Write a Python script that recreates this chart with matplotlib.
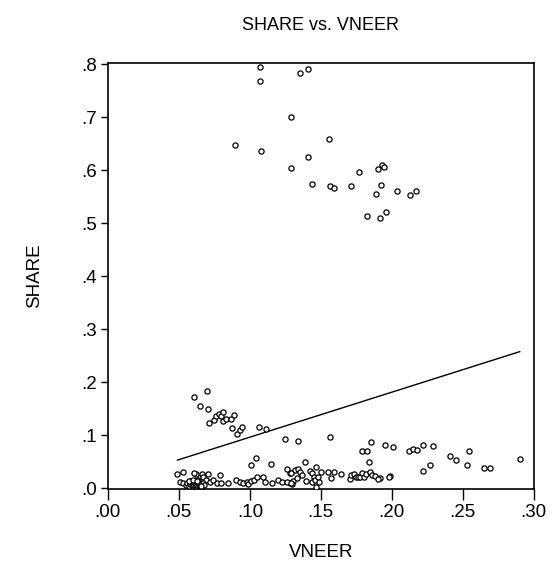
import numpy as np
import matplotlib
matplotlib.use("Agg")
import matplotlib.pyplot as plt
from matplotlib.ticker import FuncFormatter

# upper group (share > .5)
vneer_hi = [0.1075, 0.1075, 0.135, 0.141, 0.129, 0.0894, 0.108, 0.1413, 0.129, 0.1437,
            0.156, 0.1568, 0.1596, 0.177, 0.1713, 0.190, 0.1934, 0.1948, 0.1927, 0.1887,
            0.2037, 0.2129, 0.2174, 0.1824, 0.192, 0.1958]
share_hi = [0.794, 0.768, 0.783, 0.791, 0.701, 0.647, 0.635, 0.624, 0.604, 0.573,
            0.659, 0.570, 0.567, 0.596, 0.569, 0.602, 0.610, 0.605, 0.572, 0.555,
            0.561, 0.553, 0.561, 0.514, 0.509, 0.520]

# middle group (.08 - .2)
vneer_mid = [0.0606, 0.0697, 0.0646, 0.0702, 0.0709, 0.0749, 0.0765, 0.0782, 0.0794, 0.0812,
             0.0812, 0.0831, 0.0864, 0.0885, 0.0875, 0.0913, 0.093, 0.0948, 0.1063, 0.1113,
             0.1249, 0.1338, 0.1568]
share_mid = [0.172, 0.183, 0.155, 0.149, 0.123, 0.128, 0.135, 0.139, 0.136, 0.143,
             0.126, 0.131, 0.131, 0.138, 0.114, 0.102, 0.109, 0.116, 0.116, 0.111,
             0.093, 0.088, 0.096]

# lower group (share < .1)
vneer_lo = [0.101, 0.104, 0.1146, 0.1387, 0.1953, 0.2012, 0.2118, 0.215, 0.218, 0.222,
            0.2287, 0.2408, 0.2451, 0.2545, 0.2533, 0.2648, 0.2692, 0.2901, 0.2223, 0.227,
            0.199, 0.1915, 0.179, 0.1826, 0.1854, 0.184, 0.1467,
            0.128, 0.132, 0.134, 0.135, 0.137, 0.128, 0.1305, 0.133, 0.130, 0.1394,
            0.1423, 0.1437, 0.145, 0.144, 0.146, 0.1467, 0.148, 0.150, 0.1488, 0.155,
            0.159, 0.157, 0.164, 0.1704, 0.1716, 0.1735, 0.1746, 0.1763, 0.1777, 0.179,
            0.1807, 0.182, 0.1845, 0.186, 0.188, 0.1906, 0.198,
            0.062, 0.066, 0.0702, 0.067, 0.0636, 0.069, 0.072, 0.074, 0.077, 0.0789,
            0.080, 0.0847, 0.0906, 0.093, 0.0953, 0.0977, 0.099, 0.101, 0.103, 0.105,
            0.109, 0.1106, 0.1157, 0.120, 0.1228, 0.126, 0.129, 0.126, 0.1293,
            0.049, 0.053, 0.0606, 0.0507, 0.053,
            0.055, 0.056, 0.057, 0.058, 0.058, 0.059, 0.059, 0.060, 0.060, 0.061,
            0.061, 0.062, 0.062, 0.063, 0.063, 0.064, 0.064, 0.065, 0.066, 0.067,
            0.068, 0.057, 0.060, 0.0625, 0.0655]
share_lo = [0.043, 0.057, 0.045, 0.050, 0.081, 0.077, 0.069, 0.074, 0.071, 0.081,
            0.079, 0.061, 0.053, 0.069, 0.043, 0.038, 0.038, 0.054, 0.032, 0.044,
            0.022, 0.018, 0.070, 0.070, 0.086, 0.049, 0.040,
            0.028, 0.034, 0.036, 0.031, 0.025, 0.010, 0.014, 0.018, 0.008, 0.013,
            0.033, 0.028, 0.020, 0.012, 0.016, 0.002, 0.020, 0.031, 0.012, 0.031,
            0.031, 0.018, 0.026, 0.017, 0.025, 0.026, 0.021, 0.021, 0.020, 0.028,
            0.021, 0.026, 0.031, 0.025, 0.023, 0.017, 0.021,
            0.026, 0.026, 0.026, 0.021, 0.016, 0.015, 0.012, 0.016, 0.010, 0.025,
            0.009, 0.010, 0.016, 0.012, 0.010, 0.012, 0.008, 0.014, 0.016, 0.020,
            0.020, 0.012, 0.009, 0.015, 0.012, 0.012, 0.010, 0.035, 0.028,
            0.026, 0.031, 0.028, 0.012, 0.009,
            0.006, 0.010, 0.004, 0.008, 0.013, 0.005, 0.011, 0.003, 0.009, 0.006,
            0.012, 0.004, 0.008, 0.006, 0.011, 0.005, 0.009, 0.007, 0.004, 0.010,
            0.006, 0.014, 0.015, 0.013, 0.003]

# fitted line
fit_intercept = 0.011
fit_slope = 0.849

x = np.array(vneer_hi + vneer_mid + vneer_lo)
y = np.array(share_hi + share_mid + share_lo)

plt.rcParams['font.family'] = ['Liberation Sans', 'DejaVu Sans']

fig = plt.figure(figsize=(5.56, 5.70), dpi=100)
ax = fig.add_axes([0.194, 0.142, 0.766, 0.7475])

ax.scatter(x, y, s=14, facecolors='white', edgecolors='black', linewidths=0.9, zorder=3)
xl = np.array([x.min(), x.max()])
ax.plot(xl, fit_intercept + fit_slope * xl, color='black', lw=1.0, zorder=2)

ax.set_xlim(0, 0.30)
ax.set_ylim(-0.002, 0.802)
ax.set_xticks(np.arange(0, 0.301, 0.05))
ax.set_yticks(np.arange(0, 0.801, 0.1))
ax.xaxis.set_major_formatter(FuncFormatter(lambda v, p: ("%.2f" % v)[1:]))
ax.yaxis.set_major_formatter(FuncFormatter(lambda v, p: ("%.1f" % v)[1:]))
ax.tick_params(axis='x', direction='out', length=8, width=1, labelsize=13.5, pad=3)
ax.tick_params(axis='y', direction='out', length=5, width=1, labelsize=13.5, pad=3)
for s in ax.spines.values():
    s.set_linewidth(1.2)

ax.set_xlabel("VNEER", fontsize=13.5, labelpad=16)
ax.set_ylabel("SHARE", fontsize=13.5, labelpad=27)
ax.set_title("SHARE vs. VNEER", fontsize=13, pad=24)

fig.savefig("out.png", dpi=100)
